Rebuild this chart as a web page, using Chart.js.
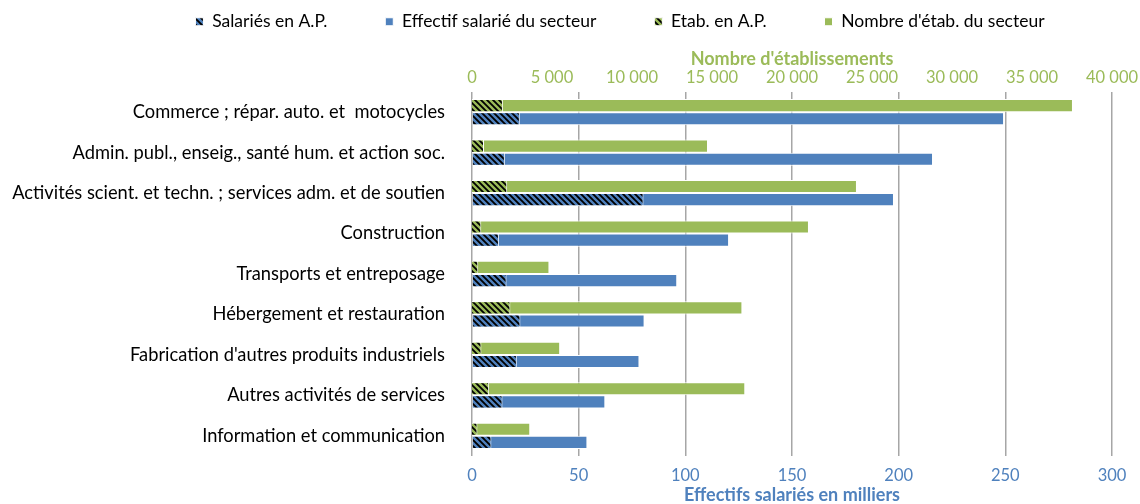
<!DOCTYPE html>
<html>
<head>
<meta charset="utf-8">
<script src="https://cdn.jsdelivr.net/npm/chart.js@4"></script>
<style>
  html, body { margin: 0; padding: 0; background: #fff; }
  #wrap { width: 1140px; height: 504px; }
</style>
</head>
<body>
<div id="wrap"><canvas id="chart"></canvas></div>
<script>
// data
const categories = [
    'Commerce ; répar. auto. et  motocycles',
    'Admin. publ., enseig., santé hum. et action soc.',
    'Activités scient. et techn. ; services adm. et de soutien',
    'Construction',
    'Transports et entreposage',
    'Hébergement et restauration',
    "Fabrication d'autres produits industriels",
    'Autres activités de services',
    'Information et communication'
];
const salariesAP = [22.4, 15.4, 80.4, 12.6, 16.2, 22.7, 21.0, 14.3, 9.1];
const effectifSecteur = [249.4, 216.1, 197.8, 120.5, 96.2, 80.9, 78.5, 62.5, 54.1];
const etabAP = [1930, 750, 2200, 580, 390, 2400, 590, 1070, 340];
const etabSecteur = [37560, 14750, 24060, 21060, 4840, 16900, 5510, 17080, 3640];

const salTicks = [0, 50, 100, 150, 200, 250, 300];
const etabTicks = [0, 5000, 10000, 15000, 20000, 25000, 30000, 35000, 40000];

const BLUE = '#4f81bd';
const GREEN = '#9bbb59';
const FONT = 'Lato, "Open Sans", sans-serif';

// hatch pattern: black with diagonal coloured stripes
function hatch(color) {
    const s = 6;
    const c = document.createElement('canvas');
    c.width = s; c.height = s;
    const g = c.getContext('2d');
    g.fillStyle = '#000';
    g.fillRect(0, 0, s, s);
    g.strokeStyle = color;
    g.lineWidth = 2.4;
    g.beginPath();
    g.moveTo(-1, -1); g.lineTo(s + 1, s + 1);
    g.moveTo(-1, s - 1); g.lineTo(1, s + 1);
    g.moveTo(s - 1, -1); g.lineTo(s + 1, 1);
    g.stroke();
    return g.createPattern(c, 'repeat');
}

// legend sits a bit right of centre in the reference
const legendShift = {
    id: 'legendShift',
    afterLayout(chart) {
        chart.legend.left += 50;
        chart.legend.right += 50;
    }
};

const ctx = document.getElementById('chart').getContext('2d');
new Chart(ctx, {
    type: 'bar',
    data: {
        labels: categories,
        datasets: [
            { label: 'Salariés en A.P.', data: salariesAP, xAxisID: 'xSal', stack: 'sal', order: 1,
              backgroundColor: hatch(BLUE), borderColor: '#fff', borderWidth: 1 },
            { label: 'Effectif salarié du secteur', data: effectifSecteur, xAxisID: 'xSal', stack: 'sal', order: 3,
              backgroundColor: BLUE, borderColor: '#fff', borderWidth: 1 },
            { label: 'Etab. en A.P.', data: etabAP, xAxisID: 'xEtab', stack: 'etab', order: 0,
              backgroundColor: hatch(GREEN), borderColor: '#fff', borderWidth: 1 },
            { label: "Nombre d'étab. du secteur", data: etabSecteur, xAxisID: 'xEtab', stack: 'etab', order: 2,
              backgroundColor: GREEN, borderColor: '#fff', borderWidth: 1 }
        ]
    },
    options: {
        indexAxis: 'y',
        responsive: true,
        maintainAspectRatio: false,
        animation: false,
        datasets: { bar: { categoryPercentage: 0.65, barPercentage: 1 } },
        layout: { padding: { top: -45, right: 0, left: 0, bottom: 0 } },
        scales: {
            y: {
                afterFit: (axis) => { axis.width = 472; },
                grid: { display: false },
                border: { display: false },
                ticks: { color: '#000', font: { family: FONT, size: 18.3 }, padding: 19 }
            },
            xSal: {
                position: 'bottom',
                stacked: false,
                min: 0, max: 300,
                afterBuildTicks: (axis) => { axis.ticks = salTicks.map(v => ({ value: v })); },
                afterFit: (axis) => { axis.paddingRight = 28; axis.height -= 9.8; },
                grid: { color: '#a6a6a6', lineWidth: 1.5, drawTicks: false },
                border: { display: false },
                ticks: { color: BLUE, font: { family: FONT, size: 16.5 }, padding: 10 },
                title: { display: true, text: 'Effectifs salariés en milliers', color: BLUE,
                         font: { family: FONT, size: 18, weight: 'bold', lineHeight: 1.0 }, padding: { top: 0, bottom: 0 } }
            },
            xEtab: {
                position: 'top',
                stacked: false,
                min: 0, max: 40000,
                afterBuildTicks: (axis) => { axis.ticks = etabTicks.map(v => ({ value: v })); },
                afterFit: (axis) => { axis.paddingRight = 28; axis.height -= 7.3; },
                grid: { display: false, drawTicks: false },
                border: { display: false },
                ticks: { color: GREEN, font: { family: FONT, size: 16.5 }, padding: 4,
                         callback: (v) => String(v).replace(/\B(?=(\d{3})+(?!\d))/g, ' ') },
                title: { display: true, text: "Nombre d'établissements", color: GREEN,
                         font: { family: FONT, size: 18, weight: 'bold', lineHeight: 1.0 }, padding: { top: 10, bottom: 3 } }
            }
        },
        plugins: {
            legend: {
                position: 'top',
                labels: {
                    boxWidth: 8, boxHeight: 8, padding: 58, color: '#000',
                    font: { family: FONT, size: 17.5 },
                    sort: (a, b) => a.datasetIndex - b.datasetIndex
                }
            },
            tooltip: { enabled: false }
        }
    },
    plugins: [legendShift]
});
</script>
</body>
</html>
